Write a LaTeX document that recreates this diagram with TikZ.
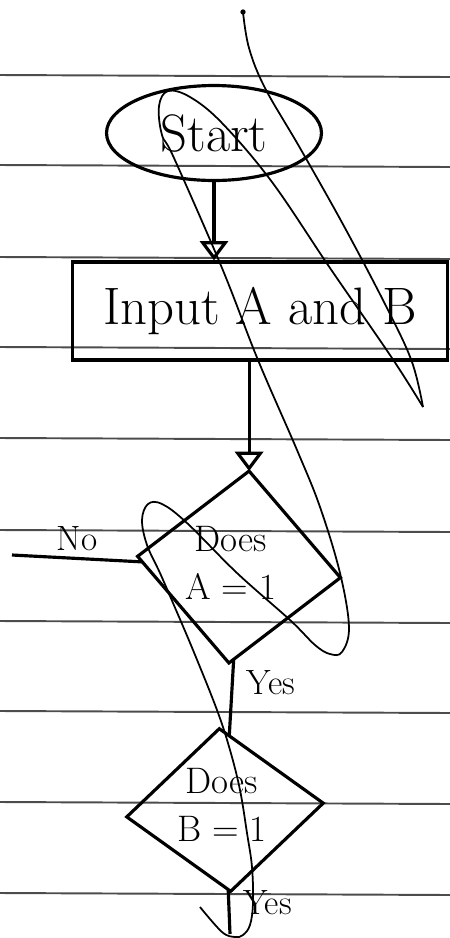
\documentclass[tikz,border=0pt]{standalone}
\usepackage{fontspec}
\usepackage{tikz}
\usetikzlibrary{arrows.meta, shapes.geometric}

\begin{document}
\begin{tikzpicture}[x=0.02cm, y=-0.02cm,
        terminal/.style = {draw, ellipse, line width=1.8pt, minimum width=4.3cm, minimum height=1.9cm, inner sep=0pt, font=\fontsize{30}{36}\selectfont},
        io/.style = {draw, rectangle, line width=1.8pt, minimum width=7.5cm, minimum height=1.96cm, font=\fontsize{30}{36}\selectfont},
        decision/.style = {draw, diamond, line width=1.8pt, inner sep=0pt, outer sep=0pt},
        qtext/.style = {align=center, font=\fontsize{21}{27}\selectfont},
        lbl/.style = {font=\fontsize{20}{22}\selectfont},
        flow/.style = {line width=1.8pt},
        ruled/.style = {line width=1.1pt, black!70},
        scribble/.style = {line width=1pt}]

            \path[use as bounding box, fill=white] (0,0) rectangle (450,938);

            \foreach \y in {75,165,257,347,438,530,621,711,802,893}
                \draw[ruled] (0,\y) -- (450,\y+2);

            \node[terminal] (start) at (214,133) {Start};
            \node[io] (input) at (260,311) {Input A and B};

            \path[flow, -{Triangle[open, length=11pt, width=16pt]}] (start.south) edge (start.south |- input.north);

            \node[decision, rotate=-6, minimum width=4.08cm, minimum height=3.86cm] (testA) at (239,567) {};
            \node[qtext] (testAtext) at (231,563) {Does\\A = 1};

            \path[flow, -{Triangle[open, length=11pt, width=16pt]}] (testA.north |- input.south) edge (testA.north);

            \coordinate (noend) at (12,555);
            \path[flow] (testA) edge node[lbl, above] {No} (noend);

            \node[decision, rotate=4, minimum width=3.94cm, minimum height=3.26cm] (testB) at (225,810) {};
            \node[qtext] (testBtext) at (222,805) {Does\\B = 1};

            \path[flow] (testA) edge node[lbl, right=4pt, pos=0.3] {Yes} (testB);

            \coordinate (stop) at (230,934);
            \path[flow] (testB) edge node[lbl, right=4pt, pos=0.3] {Yes} (stop);

            \fill (243,12) circle (1.5pt);
            \draw[scribble] plot[smooth, tension=0.6] coordinates {(243,12) (249,48) (265,88) (300,148) (345,228) (388,310) (412,362) (423,407)};
            \draw[scribble] plot[smooth, tension=0.6] coordinates {(423,407) (392,358) (330,268) (272,182) (222,123) (190,97) (168,91) (159,106) (162,135) (174,158) (222,268) (258,360) (297,450) (320,507) (340,573) (349,627) (342,652) (330,654) (315,645) (290,620) (237,573) (187,523) (162,504) (148,504) (142,520) (147,545) (160,573) (173,603) (193,650) (217,710) (230,750) (240,790) (247,833) (252,867) (253,903) (250,925) (243,935) (235,937) (222,932) (200,907)};
        \end{tikzpicture}
\end{document}
